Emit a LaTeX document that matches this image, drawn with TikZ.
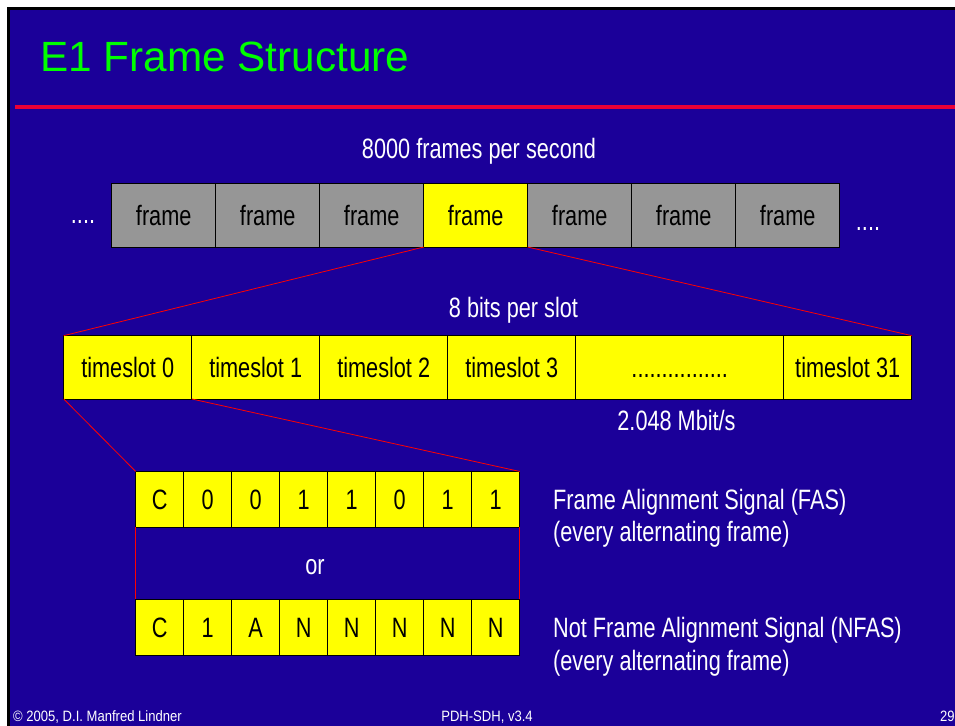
\documentclass[tikz,border=0pt]{standalone}
\usepackage{fontspec}
\setmainfont{Liberation Sans}
\newfontfamily\slidefont[FakeStretch=0.775]{Liberation Sans}
\newfontfamily\footfont[FakeStretch=0.87]{Liberation Sans}
\definecolor{slideblue}{RGB}{27,0,153}
\definecolor{titlegreen}{RGB}{0,255,0}
\definecolor{rulered}{RGB}{235,0,55}
\definecolor{cellyellow}{RGB}{255,255,0}
\definecolor{framegray}{RGB}{150,150,150}
\definecolor{zoomred}{RGB}{255,0,0}
\begin{document}
\begin{tikzpicture}[x=1pt,y=-1pt,
  cell/.style={draw=black, line width=0.8pt, inner sep=0pt, outer sep=0pt,
    text height=20.5pt, text depth=0pt, text=black,
    font=\slidefont\fontsize{28}{32}\selectfont},
  framecell/.style={cell, fill=framegray, minimum width=104pt, minimum height=63.5pt},
  slotcell/.style={cell, fill=cellyellow, minimum width=128pt, minimum height=63.3pt},
  bitcell/.style={cell, fill=cellyellow, minimum width=48pt, minimum height=55.5pt},
  lbl/.style={inner sep=0pt, text=white, font=\slidefont\fontsize{28}{32}\selectfont},
  foot/.style={inner sep=0pt, text=white, font=\footfont\fontsize{15}{18}\selectfont},
  zoomline/.style={draw=zoomred, line width=0.8pt}]

\useasboundingbox (0,0) rectangle (955,725);
\clip (0,0) rectangle (955,725);

% slide background with its black edge
\fill[white] (0,0) rectangle (955,725);
\fill[black] (7,7) rectangle (960,730);
\fill[slideblue] (10,10) rectangle (960,730);

% title and rule
\node[anchor=base west, inner sep=0pt, text=titlegreen,
      font=\fontsize{42.3}{50}\selectfont] (title) at (40,71.7) {E1 Frame Structure};
\draw[rulered, line width=4pt] (15,106.5) -- (960,106.5);

% stream of frames
\node[lbl, anchor=base] (rate) at (479,158.3) {8000 frames per second};
\foreach \i in {1,...,7} {
  \node[framecell] (f\i) at ({111.7+104*(\i-0.5)},215.3) {frame};
}
\node[framecell, fill=cellyellow] (f4) at ({111.7+104*3.5},215.3) {frame};
\node[lbl, anchor=base] (dotsl) at (83,223) {....};
\node[lbl, anchor=base] (dotsr) at (868,230.5) {....};

% timeslots of one frame
\node[lbl, anchor=base] (bits) at (513.5,317.3) {8 bits per slot};
\foreach \i in {0,...,3} {
  \node[slotcell] (ts\i) at ({63.7+128*(\i+0.5)},367.3) {timeslot \i};
}
\node[slotcell, minimum width=208pt] (tsdots) at (679.7,367.3) {................};
\node[slotcell] (ts31) at (847.7,367.3) {timeslot 31};
\node[lbl, anchor=base] (mbit) at (676.5,430) {2.048 Mbit/s};

% zoom from the highlighted frame to its timeslots
\draw[zoomline] (f4.south west) -- (ts0.north west);
\draw[zoomline] (f4.south east) -- (ts31.north east);

% bits of timeslot 0
\foreach \b [count=\i] in {C,0,0,1,1,0,1,1} {
  \node[bitcell] (fas\i) at ({135.7+48*(\i-0.5)},499.2) {\b};
}
\foreach \b [count=\i] in {C,1,A,N,N,N,N,N} {
  \node[bitcell] (nfas\i) at ({135.7+48*(\i-0.5)},627.2) {\b};
}
\draw[zoomline] (ts0.south west) -- (fas1.north west);
\draw[zoomline] (ts0.south east) -- (fas8.north east);
\draw[zoomline, line width=0.6pt] (fas1.south west) -- (nfas1.north west);
\draw[zoomline, line width=0.6pt] (fas8.south east) -- (nfas8.north east);
\node[lbl, anchor=base] (orlabel) at (315,574.3) {or};

% descriptions
\node[lbl, anchor=base west] (fasA) at (553,509) {Frame Alignment Signal (FAS)};
\node[lbl, anchor=base west] (fasB) at (553,541) {(every alternating frame)};
\node[lbl, anchor=base west] (nfasA) at (553,637.7) {Not Frame Alignment Signal (NFAS)};
\node[lbl, anchor=base west] (nfasB) at (553,670) {(every alternating frame)};

% footer
\node[foot, anchor=base west] (copy) at (13,721) {© 2005, D.I. Manfred Lindner};
\node[foot, anchor=base] (course) at (487,721) {PDH-SDH, v3.4};
\node[foot, anchor=base west] (page) at (940,721.5) {29};
\end{tikzpicture}
\end{document}
